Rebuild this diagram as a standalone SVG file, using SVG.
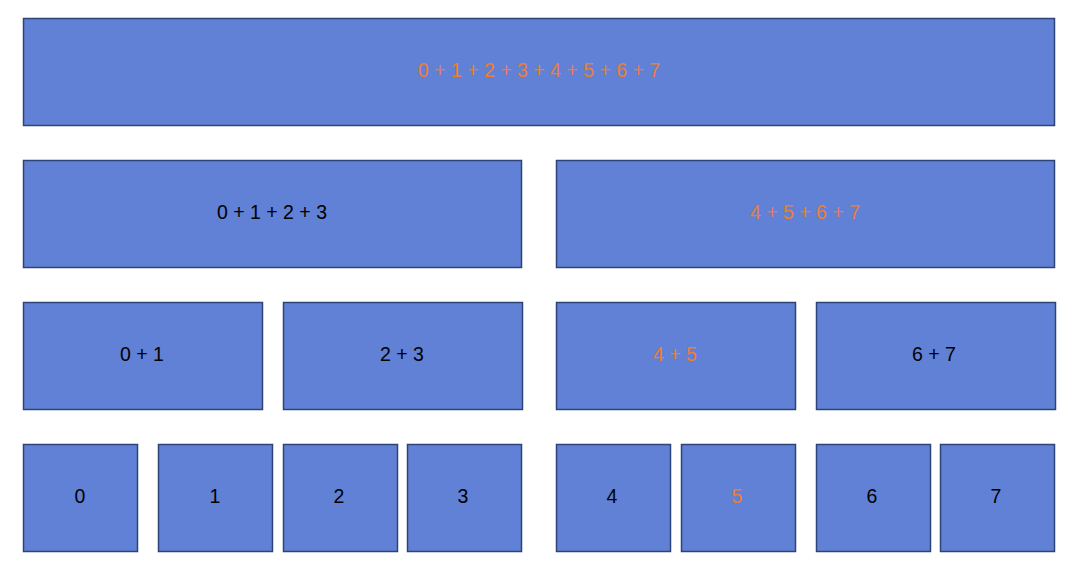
<svg xmlns="http://www.w3.org/2000/svg" width="1081" height="579" viewBox="0 0 1081 579">
<style>
.b{fill:#6181D6;stroke:#2F4476;stroke-width:1.5}
.t{font-family:"Liberation Sans",Arial,sans-serif;font-size:19.5px;text-anchor:middle;fill:#000}
.o{fill:#ED7D31}
</style>
<rect width="1081" height="579" fill="#fff"/>
<g id="n0-7"><rect class="b" x="23.5" y="18.5" width="1031" height="107"/><text class="t o" x="539" y="77">0 + 1 + 2 + 3 + 4 + 5 + 6 + 7</text></g>
<g id="n0-3"><rect class="b" x="23.5" y="160.5" width="498" height="107"/><text class="t" x="272" y="219">0 + 1 + 2 + 3</text></g>
<g id="n4-7"><rect class="b" x="556.5" y="160.5" width="498" height="107"/><text class="t o" x="805" y="219">4 + 5 + 6 + 7</text></g>
<g id="n0-1"><rect class="b" x="23.5" y="302.5" width="239" height="107"/><text class="t" x="142" y="361">0 + 1</text></g>
<g id="n2-3"><rect class="b" x="283.5" y="302.5" width="239" height="107"/><text class="t" x="402" y="361">2 + 3</text></g>
<g id="n4-5"><rect class="b" x="556.5" y="302.5" width="239" height="107"/><text class="t o" x="675" y="361">4 + 5</text></g>
<g id="n6-7"><rect class="b" x="816.5" y="302.5" width="239" height="107"/><text class="t" x="934" y="361">6 + 7</text></g>
<g id="n0"><rect class="b" x="23.5" y="444.5" width="114" height="107"/><text class="t" x="80" y="503">0</text></g>
<g id="n1"><rect class="b" x="158.5" y="444.5" width="114" height="107"/><text class="t" x="215" y="503">1</text></g>
<g id="n2"><rect class="b" x="283.5" y="444.5" width="114" height="107"/><text class="t" x="339" y="503">2</text></g>
<g id="n3"><rect class="b" x="407.5" y="444.5" width="114" height="107"/><text class="t" x="463" y="503">3</text></g>
<g id="n4"><rect class="b" x="556.5" y="444.5" width="114" height="107"/><text class="t" x="612" y="503">4</text></g>
<g id="n5"><rect class="b" x="681.5" y="444.5" width="114" height="107"/><text class="t o" x="737" y="503">5</text></g>
<g id="n6"><rect class="b" x="816.5" y="444.5" width="114" height="107"/><text class="t" x="872" y="503">6</text></g>
<g id="n7"><rect class="b" x="940.5" y="444.5" width="114" height="107"/><text class="t" x="996" y="503">7</text></g>
<g id="connectors"></g>
</svg>
